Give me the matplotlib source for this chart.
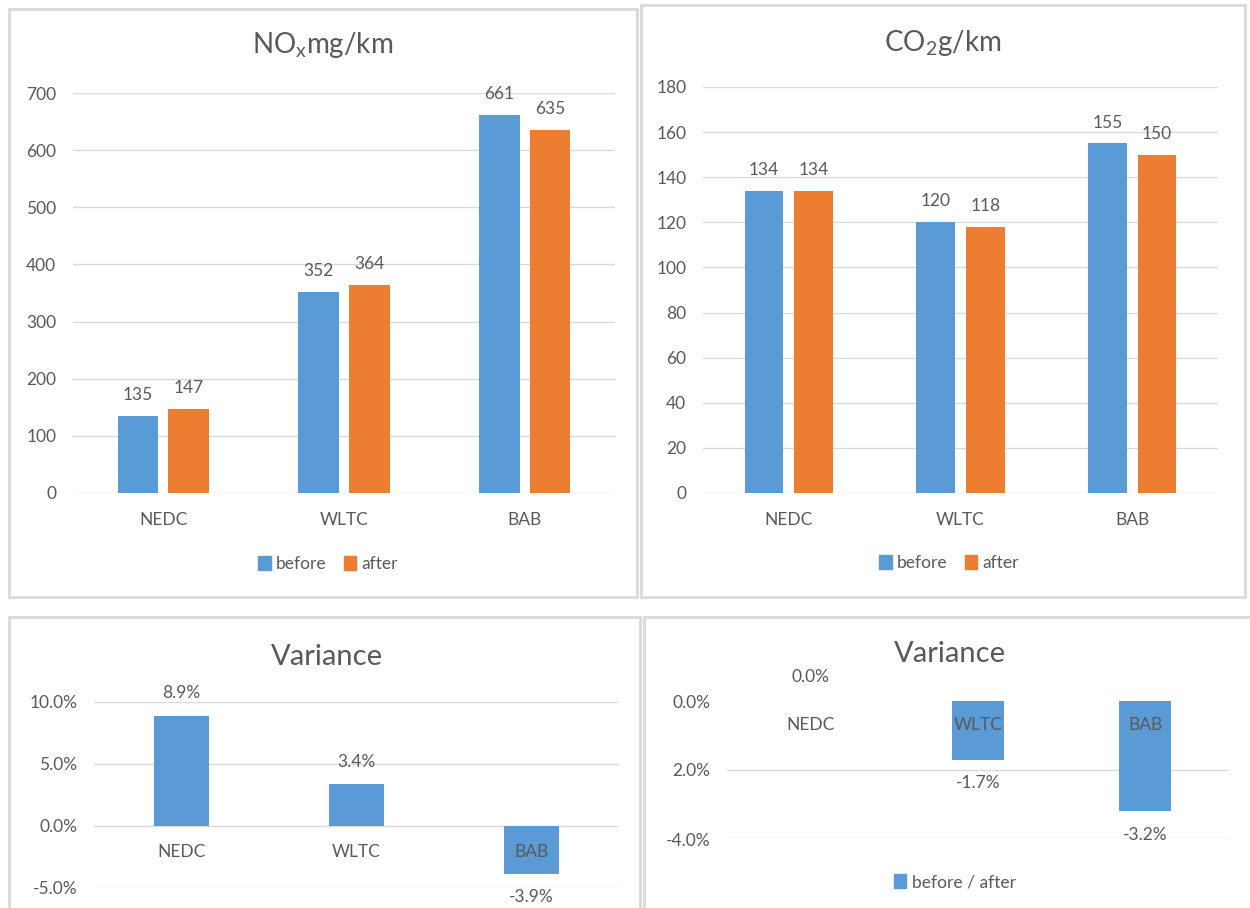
import numpy as np
import matplotlib
matplotlib.use('Agg')
import matplotlib.pyplot as plt
from matplotlib.patches import Rectangle, Patch

plt.rcParams['font.family'] = ['Lato', 'DejaVu Sans']

# data
cats = ['NEDC', 'WLTC', 'BAB']
nox_before = [135, 352, 661]
nox_after = [147, 364, 635]
co2_before = [134, 120, 155]
co2_after = [134, 118, 150]
nox_var = [0.089, 0.034, -0.039]
co2_var = [0.000, -0.017, -0.032]
nox_var_ticks = [-0.05, 0.0, 0.05, 0.10]
co2_var_ticks = [0.0, -0.02, -0.04]
co2_var_ticklabels = ['0.0%', '2.0%', '-4.0%']

BLUE = '#5B9BD5'
ORANGE = '#ED7D31'
GRID = '#D9D9D9'
TXT = '#595959'
FS = 12.5

W, H = 1250, 908
fig = plt.figure(figsize=(W / 100, H / 100), dpi=100)


def box(x0, y0, x1, y1):
    # pixel box (top-left origin) -> figure fraction rect
    return [x0 / W, 1 - y1 / H, (x1 - x0) / W, (y1 - y0) / H]


def frame(x0, y0, x1, y1):
    r = box(x0, y0, x1, y1)
    fig.add_artist(Rectangle((r[0], r[1]), r[2], r[3], transform=fig.transFigure,
                             fill=False, ec=GRID, lw=2))


def style(ax):
    for s in ax.spines.values():
        s.set_visible(False)
    ax.yaxis.grid(True, color=GRID, lw=1)
    ax.set_axisbelow(True)
    ax.tick_params(length=0, labelsize=FS, labelcolor=TXT)
    ax.tick_params(axis='y', pad=12)
    ax.set_xlim(-0.5, 2.5)


def label(ax, x, v, text, off=15):
    ax.annotate(text, (x, v), xytext=(0, off if v >= 0 else -off),
                textcoords='offset points', ha='center', va='center',
                fontsize=FS, color=TXT, zorder=5, annotation_clip=False)


x = np.arange(len(cats))

# panel frames
frame(9, 9, 637, 597)
frame(641, 5, 1245, 597)
frame(9, 617, 640, 920)
frame(644, 617, 1260, 920)

# --- NOx
ax1 = fig.add_axes(box(73, 93, 615, 493))
style(ax1)
ax1.bar(x - 0.14, nox_before, 0.225, color=BLUE)
ax1.bar(x + 0.14, nox_after, 0.225, color=ORANGE)
ax1.set_ylim(0, 700)
ax1.set_yticks(range(0, 701, 100))
ax1.set_xticks(x, cats)
ax1.tick_params(axis='x', pad=14)
for i in range(3):
    label(ax1, x[i] - 0.14, nox_before[i], str(nox_before[i]))
    label(ax1, x[i] + 0.14, nox_after[i], str(nox_after[i]))
fig.text(323 / W, 1 - 45 / H, r'NO$_\mathregular{x}$mg/km', ha='center', va='center',
         fontsize=20, color=TXT)
fig.legend(handles=[Patch(color=BLUE, label='before'), Patch(color=ORANGE, label='after')],
           loc='center', bbox_to_anchor=(328 / W, 1 - 564 / H), ncol=2, frameon=False,
           fontsize=FS, labelcolor=TXT, handlelength=0.7, handleheight=0.9,
           handletextpad=0.3, columnspacing=1.0)

# --- CO2
ax2 = fig.add_axes(box(703, 87, 1218, 493))
style(ax2)
ax2.bar(x - 0.145, co2_before, 0.225, color=BLUE)
ax2.bar(x + 0.145, co2_after, 0.225, color=ORANGE)
ax2.set_ylim(0, 180)
ax2.set_yticks(range(0, 181, 20))
ax2.set_xticks(x, cats)
ax2.tick_params(axis='x', pad=14)
for i in range(3):
    label(ax2, x[i] - 0.145, co2_before[i], str(co2_before[i]))
    label(ax2, x[i] + 0.145, co2_after[i], str(co2_after[i]))
fig.text(943 / W, 1 - 43 / H, r'CO$_\mathregular{2}$g/km', ha='center', va='center',
         fontsize=20, color=TXT)
fig.legend(handles=[Patch(color=BLUE, label='before'), Patch(color=ORANGE, label='after')],
           loc='center', bbox_to_anchor=(949 / W, 1 - 563 / H), ncol=2, frameon=False,
           fontsize=FS, labelcolor=TXT, handlelength=0.7, handleheight=0.9,
           handletextpad=0.3, columnspacing=1.0)

# --- NOx variance
ax3 = fig.add_axes(box(94, 702, 619, 888))
style(ax3)
ax3.bar(x, nox_var, 0.31, color=BLUE)
ax3.set_ylim(-0.05, 0.10)
ax3.set_yticks(nox_var_ticks, ['%.1f%%' % (t * 100) for t in nox_var_ticks])
ax3.set_xticks([])
for i in range(3):
    label(ax3, x[i], nox_var[i], '%.1f%%' % (nox_var[i] * 100), off=16)
    ax3.annotate(cats[i], (x[i], 0), xytext=(0, -19), textcoords='offset points',
                 ha='center', va='center', fontsize=FS, color=TXT, zorder=5)
fig.text(327 / W, 1 - 657 / H, 'Variance', ha='center', va='center', fontsize=21, color=TXT)

# --- CO2 variance
ax4 = fig.add_axes(box(727, 701, 1229, 839))
style(ax4)
ax4.bar(x, co2_var, 0.31, color=BLUE, label='before / after')
ax4.set_ylim(-0.04, 0.0)
ax4.set_yticks(co2_var_ticks, co2_var_ticklabels)
ax4.get_ygridlines()[0].set_visible(False)
ax4.set_xticks([])
for i in range(3):
    label(ax4, x[i], co2_var[i], '%.1f%%' % (co2_var[i] * 100), off=17)
    ax4.annotate(cats[i], (x[i], 0), xytext=(0, -17), textcoords='offset points',
                 ha='center', va='center', fontsize=FS, color=TXT, zorder=5,
                 annotation_clip=False)
fig.text(950 / W, 1 - 654 / H, 'Variance', ha='center', va='center', fontsize=21, color=TXT)
fig.legend(handles=[Patch(color=BLUE, label='before / after')],
           loc='center', bbox_to_anchor=(955 / W, 1 - 882 / H), frameon=False,
           fontsize=FS, labelcolor=TXT, handlelength=0.7, handleheight=0.9,
           handletextpad=0.3)

fig.savefig('out.png', dpi=100, facecolor='white')
